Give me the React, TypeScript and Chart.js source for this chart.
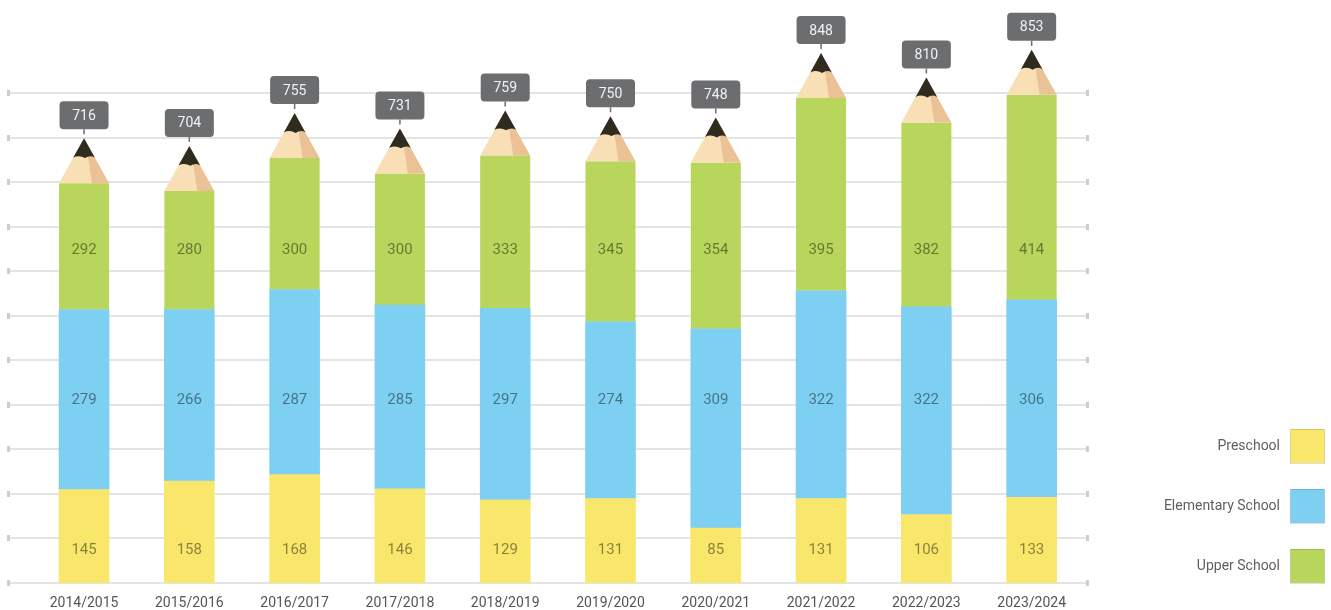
import React, { useEffect, useRef } from 'react';
import { Chart, registerables } from 'chart.js';

Chart.register(...registerables);

const years = ['2014/2015', '2015/2016', '2016/2017', '2017/2018', '2018/2019', '2019/2020', '2020/2021', '2021/2022', '2022/2023', '2023/2024'];
const preschool = [145, 158, 168, 146, 129, 131, 85, 131, 106, 133];
const elementary = [279, 266, 287, 285, 297, 274, 309, 322, 322, 306];
const upper = [292, 280, 300, 300, 333, 345, 354, 395, 382, 414];
const totals = [716, 704, 755, 731, 759, 750, 748, 848, 810, 853];
const seriesLabels = ['Preschool', 'Elementary School', 'Upper School'];
const gridValues = [0, 69, 138, 207, 276, 345, 414, 483, 552, 621, 690, 759];

const COLORS = ['#f8e76a', '#7dd0f2', '#b9d65c'];
const FONT = 'Roboto, "Open Sans", sans-serif';

export default function App() {
  const ref = useRef<HTMLCanvasElement | null>(null);

  useEffect(() => {
    if (!ref.current) return;
    const TIP_BASE = 62;
    const APEX = 17;
    const BUBBLE_GAP = 8;
    const LABEL_ROWS = [550, 400, 250];

    const pencilPlugin = {
      id: 'pencil',
      beforeDatasetsDraw(chart: any) {
        const ctx = chart.ctx;
        const yScale = chart.scales.y;
        ctx.save();
        gridValues.forEach((v) => {
          const py = Math.round(yScale.getPixelForValue(v));
          ctx.fillStyle = '#e4e4e4';
          ctx.fillRect(9, py - 1, 1079, 2);
          ctx.fillStyle = '#cdcdcd';
          ctx.fillRect(7, py - 3, 3, 6);
          ctx.fillRect(1086, py - 3, 3, 6);
        });
        ctx.restore();
      },
      beforeDatasetDraw(chart: any, args: any) {
        if (args.index !== 2) return;
        const ctx = chart.ctx;
        ctx.save();
        args.meta.data.forEach((el: any) => {
          const { x, y, base, width } = el.getProps(['x', 'y', 'base', 'width'], true);
          const half = width / 2;
          const baseY = y + TIP_BASE;
          const apexY = y + APEX;
          const h = baseY - apexY;
          // body
          ctx.fillStyle = COLORS[2];
          ctx.fillRect(x - half, baseY, width, base - baseY);
          // wood
          ctx.fillStyle = '#f9dfb6';
          ctx.beginPath();
          ctx.moveTo(x - half, baseY);
          ctx.lineTo(x, apexY);
          ctx.lineTo(x + 8.5, baseY);
          ctx.closePath();
          ctx.fill();
          ctx.fillStyle = '#ebc196';
          ctx.beginPath();
          ctx.moveTo(x + 8, baseY);
          ctx.lineTo(x + 1, apexY + 2);
          ctx.lineTo(x, apexY);
          ctx.lineTo(x + half, baseY);
          ctx.closePath();
          ctx.fill();
          // graphite
          const bh = h * 0.43;
          const yb = apexY + bh;
          const wb = (half * bh) / h;
          ctx.fillStyle = '#2f2b1f';
          ctx.beginPath();
          ctx.moveTo(x, apexY);
          ctx.lineTo(x + wb, yb);
          ctx.quadraticCurveTo(x + wb * 0.55, yb - 3, x + wb * 0.1, yb + 0.5);
          ctx.quadraticCurveTo(x - wb * 0.45, yb - 3, x - wb, yb);
          ctx.closePath();
          ctx.fill();
        });
        ctx.restore();
        return false;
      },
      afterDatasetsDraw(chart: any) {
        const ctx = chart.ctx;
        ctx.save();
        ctx.textAlign = 'center';
        ctx.textBaseline = 'middle';
        ctx.font = `15px ${FONT}`;
        ctx.fillStyle = 'rgba(0,0,0,0.45)';
        for (let d = 0; d < 3; d++) {
          const meta = chart.getDatasetMeta(d);
          meta.data.forEach((el: any, i: number) => {
            const { x } = el.getProps(['x'], true);
            ctx.fillText(String(chart.data.datasets[d].data[i]), x, LABEL_ROWS[d]);
          });
        }
        // bubbles
        const meta = chart.getDatasetMeta(2);
        meta.data.forEach((el: any, i: number) => {
          const { x, y } = el.getProps(['x', 'y'], true);
          const bw = 49;
          const bh = 28;
          const bottom = y + BUBBLE_GAP;
          const topB = bottom - bh;
          ctx.fillStyle = '#6c6d6f';
          ctx.beginPath();
          ctx.roundRect(x - bw / 2, topB, bw, bh, 4);
          ctx.fill();
          ctx.strokeStyle = '#6c6d6f';
          ctx.lineWidth = 1.5;
          ctx.beginPath();
          ctx.moveTo(x, bottom);
          ctx.lineTo(x, bottom + 5);
          ctx.stroke();
          ctx.fillStyle = '#f2f2f2';
          ctx.font = `14px ${FONT}`;
          ctx.fillText(String(totals[i]), x, topB + bh / 2 + 1);
        });
        ctx.restore();
      },
      afterDraw(chart: any) {
        const ctx = chart.ctx;
        ctx.save();
        const centers = [446, 506, 566];
        chart.data.datasets.forEach((ds: any, i: number) => {
          const cy = centers[i];
          ctx.fillStyle = COLORS[i];
          ctx.fillRect(1290.5, cy - 17, 34, 34);
          ctx.strokeStyle = 'rgba(0,0,0,0.13)';
          ctx.lineWidth = 1;
          ctx.strokeRect(1290.5, cy - 16.5, 34, 34);
          ctx.fillStyle = '#5f5f5f';
          ctx.font = `14px ${FONT}`;
          ctx.textAlign = 'right';
          ctx.textBaseline = 'middle';
          ctx.fillText(ds.label, 1280, cy);
        });
        ctx.restore();
      },
    };

    const chart = new Chart(ref.current, {
      type: 'bar',
      data: {
        labels: years,
        datasets: [
          { label: seriesLabels[0], data: preschool, backgroundColor: COLORS[0], barThickness: 50, borderWidth: 0 },
          { label: seriesLabels[1], data: elementary, backgroundColor: COLORS[1], barThickness: 50, borderWidth: 0 },
          { label: seriesLabels[2], data: upper, backgroundColor: COLORS[2], barThickness: 50, borderWidth: 0 },
        ],
      },
      options: {
        animation: false,
        responsive: true,
        maintainAspectRatio: false,
        layout: { padding: { left: 31.4, right: 246.7, top: 15.4, bottom: 0 } },
        plugins: { legend: { display: false }, tooltip: { enabled: false } },
        scales: {
          x: {
            stacked: true,
            grid: { display: false, drawTicks: false },
            border: { display: false },
            ticks: { color: '#555', font: { family: FONT, size: 14 }, padding: 12, maxRotation: 0 },
            afterFit: (s: any) => {
              s.height = 27;
            },
          },
          y: { stacked: true, display: false, min: 0, max: 880 },
        },
      },
      plugins: [pencilPlugin],
    });
    return () => chart.destroy();
  }, []);

  return (
    <div style={{ position: 'absolute', left: 0, top: 0, width: 1331, height: 610, background: '#fff' }}>
      <canvas ref={ref} />
    </div>
  );
}
